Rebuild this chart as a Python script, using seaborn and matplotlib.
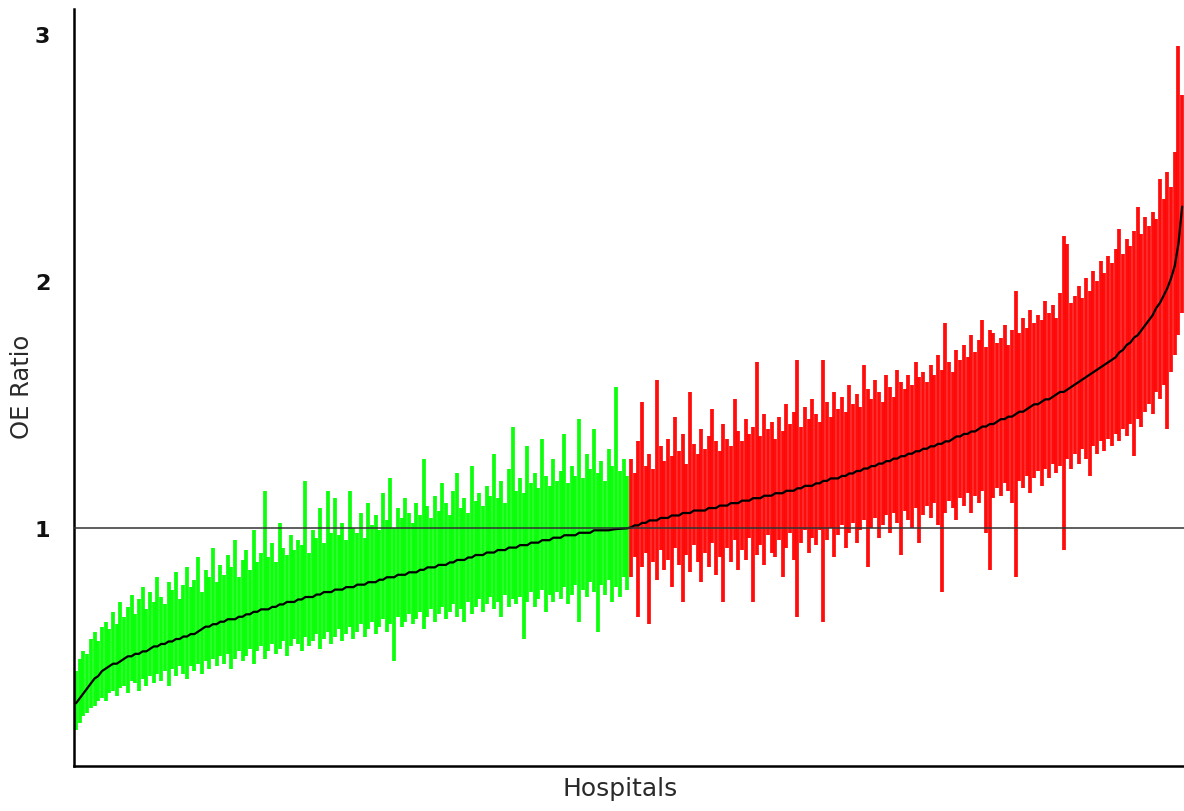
import numpy as np
import pandas as pd
import matplotlib
matplotlib.use("Agg")
import matplotlib.pyplot as plt
import seaborn as sns

# OE ratio per hospital, sorted
oe_ratio = [
    0.29, 0.31, 0.33, 0.35, 0.37, 0.39, 0.40, 0.42, 0.43, 0.44,
    0.45, 0.45, 0.46, 0.47, 0.48, 0.48, 0.49, 0.49, 0.50, 0.50,
    0.51, 0.52, 0.52, 0.53, 0.53, 0.54, 0.54, 0.55, 0.55, 0.56,
    0.56, 0.57, 0.57, 0.58, 0.59, 0.60, 0.60, 0.61, 0.61, 0.62,
    0.62, 0.63, 0.63, 0.63, 0.64, 0.64, 0.65, 0.65, 0.66, 0.66,
    0.67, 0.67, 0.67, 0.68, 0.68, 0.69, 0.69, 0.70, 0.70, 0.70,
    0.71, 0.71, 0.72, 0.72, 0.72, 0.73, 0.73, 0.74, 0.74, 0.74,
    0.75, 0.75, 0.75, 0.76, 0.76, 0.76, 0.77, 0.77, 0.77, 0.78,
    0.78, 0.78, 0.79, 0.79, 0.80, 0.80, 0.80, 0.81, 0.81, 0.81,
    0.82, 0.82, 0.82, 0.83, 0.83, 0.84, 0.84, 0.84, 0.85, 0.85,
    0.85, 0.86, 0.86, 0.87, 0.87, 0.87, 0.88, 0.88, 0.89, 0.89,
    0.89, 0.90, 0.90, 0.90, 0.91, 0.91, 0.91, 0.92, 0.92, 0.92,
    0.93, 0.93, 0.93, 0.94, 0.94, 0.94, 0.95, 0.95, 0.95, 0.96,
    0.96, 0.96, 0.97, 0.97, 0.97, 0.97, 0.98, 0.98, 0.98, 0.98,
    0.99, 0.99, 0.99, 0.99, 0.99, 0.993, 0.995, 0.996, 0.997, 0.998,
    1.002, 1.01, 1.01, 1.02, 1.02, 1.03, 1.03, 1.03, 1.04, 1.04,
    1.04, 1.05, 1.05, 1.05, 1.06, 1.06, 1.06, 1.07, 1.07, 1.07,
    1.07, 1.08, 1.08, 1.08, 1.09, 1.09, 1.09, 1.10, 1.10, 1.10,
    1.11, 1.11, 1.11, 1.12, 1.12, 1.12, 1.13, 1.13, 1.13, 1.14,
    1.14, 1.14, 1.15, 1.15, 1.15, 1.16, 1.16, 1.17, 1.17, 1.17,
    1.18, 1.18, 1.19, 1.19, 1.20, 1.20, 1.20, 1.21, 1.21, 1.22,
    1.22, 1.23, 1.23, 1.24, 1.24, 1.25, 1.25, 1.26, 1.26, 1.27,
    1.27, 1.28, 1.28, 1.29, 1.29, 1.30, 1.30, 1.31, 1.31, 1.32,
    1.32, 1.33, 1.33, 1.34, 1.34, 1.35, 1.35, 1.36, 1.37, 1.37,
    1.38, 1.38, 1.39, 1.39, 1.40, 1.41, 1.41, 1.42, 1.42, 1.43,
    1.44, 1.44, 1.45, 1.45, 1.46, 1.47, 1.47, 1.48, 1.49, 1.50,
    1.50, 1.51, 1.52, 1.52, 1.53, 1.54, 1.55, 1.55, 1.56, 1.57,
    1.58, 1.59, 1.60, 1.61, 1.62, 1.63, 1.64, 1.65, 1.66, 1.67,
    1.68, 1.69, 1.71, 1.72, 1.74, 1.75, 1.77, 1.78, 1.80, 1.82,
    1.84, 1.86, 1.89, 1.91, 1.94, 1.97, 2.01, 2.06, 2.15, 2.30,
]

# upper confidence limits
ci_upper = [
    0.42, 0.47, 0.50, 0.49, 0.55, 0.58, 0.54, 0.60, 0.62, 0.59,
    0.66, 0.61, 0.70, 0.64, 0.68, 0.73, 0.65, 0.71, 0.76, 0.67,
    0.74, 0.70, 0.80, 0.72, 0.69, 0.78, 0.75, 0.82, 0.71, 0.77,
    0.84, 0.76, 0.79, 0.88, 0.74, 0.83, 0.80, 0.92, 0.78, 0.85,
    0.81, 0.89, 0.84, 0.95, 0.80, 0.87, 0.91, 0.83, 0.99, 0.86,
    0.90, 1.15, 0.88, 0.94, 0.86, 1.02, 0.92, 0.89, 0.97, 0.91,
    0.95, 0.93, 1.19, 0.90, 0.99, 0.96, 1.08, 0.94, 1.15, 0.98,
    1.12, 0.97, 1.02, 0.95, 1.15, 1.00, 0.98, 1.06, 0.96, 1.10,
    1.01, 1.05, 0.99, 1.14, 1.03, 1.20, 1.00, 1.08, 1.04, 1.12,
    1.06, 1.02, 1.10, 1.05, 1.28, 1.09, 1.04, 1.13, 1.07, 1.18,
    1.10, 1.05, 1.15, 1.22, 1.08, 1.12, 1.06, 1.25, 1.11, 1.14,
    1.09, 1.17, 1.13, 1.30, 1.12, 1.19, 1.10, 1.24, 1.41, 1.15,
    1.20, 1.14, 1.33, 1.18, 1.22, 1.16, 1.36, 1.21, 1.17, 1.28,
    1.19, 1.23, 1.38, 1.18, 1.25, 1.21, 1.44, 1.20, 1.30, 1.24,
    1.40, 1.22, 1.27, 1.19, 1.32, 1.25, 1.57, 1.23, 1.28, 1.21,
    1.28, 1.22, 1.35, 1.51, 1.25, 1.30, 1.24, 1.60, 1.33, 1.27,
    1.36, 1.29, 1.45, 1.31, 1.38, 1.26, 1.55, 1.34, 1.30, 1.40,
    1.32, 1.37, 1.48, 1.35, 1.31, 1.42, 1.36, 1.33, 1.52, 1.39,
    1.35, 1.44, 1.38, 1.41, 1.67, 1.37, 1.46, 1.40, 1.43, 1.36,
    1.45, 1.39, 1.50, 1.42, 1.47, 1.68, 1.41, 1.49, 1.44, 1.52,
    1.46, 1.43, 1.68, 1.51, 1.45, 1.55, 1.48, 1.53, 1.47, 1.58,
    1.50, 1.54, 1.49, 1.66, 1.56, 1.52, 1.60, 1.55, 1.51, 1.62,
    1.57, 1.53, 1.64, 1.59, 1.56, 1.62, 1.58, 1.67, 1.61, 1.63,
    1.59, 1.66, 1.62, 1.70, 1.64, 1.83, 1.67, 1.63, 1.72, 1.68,
    1.74, 1.69, 1.78, 1.71, 1.76, 1.84, 1.73, 1.80, 1.79, 1.75,
    1.77, 1.82, 1.74, 1.80, 1.96, 1.79, 1.85, 1.81, 1.88, 1.83,
    1.86, 1.84, 1.92, 1.87, 1.90, 1.85, 1.95, 2.18, 2.15, 1.91,
    1.94, 1.98, 1.93, 2.01, 1.96, 2.04, 2.00, 2.08, 2.03, 2.10,
    2.07, 2.13, 2.21, 2.11, 2.17, 2.14, 2.20, 2.30, 2.19, 2.26,
    2.22, 2.28, 2.25, 2.41, 2.33, 2.44, 2.38, 2.52, 2.95, 2.75,
]

# lower confidence limits
ci_lower = [
    0.18, 0.21, 0.24, 0.25, 0.27, 0.28, 0.30, 0.31, 0.30, 0.33,
    0.34, 0.32, 0.35, 0.36, 0.33, 0.38, 0.37, 0.34, 0.39, 0.36,
    0.40, 0.37, 0.41, 0.38, 0.42, 0.36, 0.43, 0.40, 0.44, 0.41,
    0.39, 0.44, 0.42, 0.45, 0.41, 0.46, 0.43, 0.47, 0.44, 0.48,
    0.45, 0.49, 0.43, 0.47, 0.50, 0.46, 0.48, 0.51, 0.45, 0.50,
    0.52, 0.47, 0.50, 0.53, 0.49, 0.51, 0.54, 0.48, 0.52, 0.55,
    0.53, 0.50, 0.56, 0.52, 0.54, 0.57, 0.51, 0.55, 0.58, 0.53,
    0.56, 0.59, 0.54, 0.57, 0.60, 0.55, 0.58, 0.61, 0.56, 0.59,
    0.62, 0.57, 0.60, 0.63, 0.58, 0.61, 0.46, 0.64, 0.60, 0.62,
    0.65, 0.61, 0.63, 0.66, 0.59, 0.64, 0.67, 0.62, 0.65, 0.68,
    0.63, 0.66, 0.69, 0.64, 0.67, 0.62, 0.70, 0.65, 0.68, 0.71,
    0.66, 0.69, 0.72, 0.67, 0.70, 0.64, 0.73, 0.68, 0.71, 0.69,
    0.72, 0.55, 0.70, 0.74, 0.68, 0.71, 0.75, 0.66, 0.73, 0.70,
    0.74, 0.71, 0.76, 0.69, 0.73, 0.77, 0.62, 0.75, 0.72, 0.78,
    0.74, 0.58, 0.77, 0.73, 0.79, 0.70, 0.76, 0.72, 0.80, 0.75,
    0.80, 0.88, 0.64, 0.84, 0.90, 0.61, 0.86, 0.79, 0.91, 0.83,
    0.87, 0.76, 0.92, 0.85, 0.70, 0.89, 0.82, 0.93, 0.86, 0.78,
    0.90, 0.84, 0.94, 0.81, 0.88, 0.70, 0.92, 0.86, 0.95, 0.83,
    0.91, 0.87, 0.96, 0.70, 0.89, 0.93, 0.85, 0.97, 0.90, 0.88,
    0.95, 0.80, 0.92, 0.98, 0.87, 0.64, 0.94, 0.99, 0.90, 0.96,
    0.93, 0.99, 0.62, 0.95, 1.00, 0.88, 0.97, 1.01, 0.92, 0.98,
    1.02, 0.94, 0.99, 1.03, 0.84, 1.00, 1.04, 0.96, 1.01, 1.05,
    0.98, 1.06, 1.02, 0.89, 1.07, 1.03, 1.00, 1.08, 0.94, 1.05,
    1.09, 1.04, 1.10, 1.01, 0.74, 1.06, 1.11, 1.08, 1.03, 1.12,
    1.09, 1.14, 1.06, 1.13, 1.10, 1.15, 0.98, 0.83, 1.12, 1.16,
    1.13, 1.18, 1.15, 1.10, 0.80, 1.19, 1.16, 1.21, 1.14, 1.20,
    1.23, 1.17, 1.24, 1.20, 1.26, 1.22, 1.25, 0.91, 1.28, 1.24,
    1.30, 1.26, 1.32, 1.28, 1.21, 1.33, 1.30, 1.35, 1.31, 1.36,
    1.33, 1.38, 1.35, 1.40, 1.37, 1.42, 1.29, 1.44, 1.41, 1.47,
    1.50, 1.46, 1.55, 1.52, 1.58, 1.40, 1.63, 1.70, 1.78, 1.87,
]

y_ticks = [1, 2, 3]
y_tick_labels = ["1", "2", "3"]

df = pd.DataFrame({"oe": oe_ratio, "lo": ci_lower, "hi": ci_upper})
df["hospital"] = np.arange(len(df))
df["color"] = np.where(df["oe"] < 1, "#00ff00", "#ff0000")

sns.set_style("white")
plt.rcParams["font.family"] = ["DejaVu Sans"]

fig = plt.figure(figsize=(11.84, 8.12), dpi=100)
ax = fig.add_axes([74 / 1184, 45 / 812, 1110 / 1184, 757 / 812])

# one vertical CI line per hospital, green below 1 and red above
ax.vlines(df["hospital"], df["lo"], df["hi"], colors=df["color"],
          linewidth=2.7, alpha=0.95, zorder=2)
sns.lineplot(data=df, x="hospital", y="oe", color="black", linewidth=1.6,
             ax=ax, zorder=3)
ax.axhline(1, color="#333333", linewidth=1.1, zorder=4)

ax.set_xlim(-0.55, len(df) - 0.5)
ax.set_ylim(0.036, 3.10)
ax.set_xticks([])
ax.set_yticks(y_ticks)
ax.set_yticklabels(y_tick_labels, fontsize=16, fontweight="bold", color="#111111")
ax.tick_params(axis="y", length=3, width=1, color="#aaaaaa", pad=14)
ax.set_xlabel("")
ax.set_ylabel("")

for side in ["top", "right"]:
    ax.spines[side].set_visible(False)
for side in ["left", "bottom"]:
    ax.spines[side].set_color("black")
    ax.spines[side].set_linewidth(1.8)

fig.text(22 / 1184, 1 - 387 / 812, "OE Ratio", rotation=90, ha="center",
         va="center", fontsize=17.5, color="#2a2a2a")
fig.text(620 / 1184, 1 - 789 / 812, "Hospitals", ha="center", va="center",
         fontsize=18, color="#2a2a2a")

fig.savefig("out.png", dpi=100)
